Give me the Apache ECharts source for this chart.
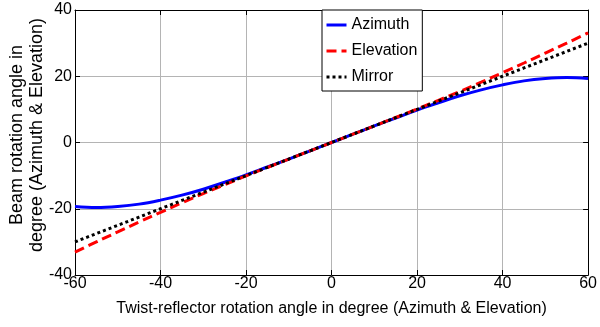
<!DOCTYPE html>
<html><head><meta charset="utf-8">
<script src="https://cdn.jsdelivr.net/npm/echarts@6/dist/echarts.min.js"></script>
<style>html,body{margin:0;padding:0;background:#fff}#c{width:600px;height:327px}</style>
</head><body><div id="c"></div>
<script>
var angles = [-60,-55,-50,-45,-40,-35,-30,-25,-20,-15,-10,-5,0,5,10,15,20,25,30,35,40,45,50,55,60];
var azimuth = [-19.3,-19.6,-19.3,-18.6,-17.4,-15.9,-14.1,-12.0,-9.8,-7.4,-5.0,-2.5,0,2.5,5.0,7.4,9.8,12.0,14.1,15.9,17.4,18.6,19.3,19.6,19.3];
var elevation = [-33.1,-30.0,-27.0,-24.0,-21.1,-18.2,-15.4,-12.75,-10.1,-7.55,-5.0,-2.5,0,2.5,5.0,7.55,10.1,12.75,15.4,18.2,21.1,24.0,27.0,30.0,33.1];
var mirror = [-30,-27.5,-25,-22.5,-20,-17.5,-15,-12.5,-10,-7.5,-5,-2.5,0,2.5,5,7.5,10,12.5,15,17.5,20,22.5,25,27.5,30];
var xTicks = [-60,-40,-20,0,20,40,60];
var yTicks = [-40,-20,0,20,40];
var seriesNames = ['Azimuth','Elevation','Mirror'];
var xTitle = 'Twist-reflector rotation angle in degree (Azimuth & Elevation)';
var yTitle = 'Beam rotation angle in\ndegree (Azimuth & Elevation)';

function pairs(v){ return angles.map(function(a,i){ return [a, v[i]]; }); }
var FONT = '"Liberation Sans", Arial, sans-serif';
var chart = echarts.init(document.getElementById('c'), null, {renderer:'canvas'});
var tickStyle = {show:true, inside:true, length:5, lineStyle:{color:'#000', width:1}};
chart.setOption({
  animation:false,
  backgroundColor:'#fff',
  grid:{left:75, right:8, top:10, bottom:52, containLabel:false},
  legend:{
    data:seriesNames, orient:'vertical', left:322, top:10,
    backgroundColor:'#fff', borderColor:'#000', borderWidth:1, borderRadius:0,
    padding:[7,5,6,3], itemGap:10, itemWidth:20, itemHeight:15,
    itemStyle:{opacity:0},
    lineStyle:{width:3},
    textStyle:{fontFamily:FONT, fontSize:16, color:'#000'}
  },
  xAxis:[{
    type:'value', min:xTicks[0], max:xTicks[xTicks.length-1], interval:20,
    axisLine:{show:true, onZero:false, lineStyle:{color:'#000', width:1}},
    axisTick:tickStyle,
    axisLabel:{fontFamily:FONT, fontSize:16, color:'#000', margin:1},
    splitLine:{show:true, lineStyle:{color:'#b4b4b4', width:1}},
    name:xTitle, nameLocation:'middle', nameGap:26,
    nameTextStyle:{fontFamily:FONT, fontSize:16, color:'#000'}
  },{
    type:'value', position:'top', min:xTicks[0], max:xTicks[xTicks.length-1], interval:20,
    axisLine:{show:true, onZero:false, lineStyle:{color:'#000', width:1}},
    axisTick:tickStyle, axisLabel:{show:false}, splitLine:{show:false}
  }],
  yAxis:[{
    type:'value', min:yTicks[0], max:yTicks[yTicks.length-1], interval:20,
    axisLine:{show:true, onZero:false, lineStyle:{color:'#000', width:1}},
    axisTick:tickStyle,
    axisLabel:{fontFamily:FONT, fontSize:16, color:'#000', margin:3},
    splitLine:{show:true, lineStyle:{color:'#b4b4b4', width:1}}
  },{
    type:'value', position:'right', min:yTicks[0], max:yTicks[yTicks.length-1], interval:20,
    axisLine:{show:true, onZero:false, lineStyle:{color:'#000', width:1}},
    axisTick:tickStyle, axisLabel:{show:false}, splitLine:{show:false}
  }],
  graphic:[{
    type:'text', x:27, y:135, rotation:Math.PI/2,
    style:{text:yTitle, fontFamily:FONT, fontSize:18, lineHeight:20, fill:'#000', align:'center', verticalAlign:'middle'}
  }],
  series:[
    {name:seriesNames[0], type:'line', data:pairs(azimuth), showSymbol:false, symbol:'none', smooth:0.4,
     lineStyle:{color:'#0000ff', width:3}, itemStyle:{color:'#0000ff'}},
    {name:seriesNames[1], type:'line', data:pairs(elevation), showSymbol:false, symbol:'none', smooth:0.4,
     lineStyle:{color:'#ff0000', width:3, type:[10,5]}, itemStyle:{color:'#ff0000'}},
    {name:seriesNames[2], type:'line', data:pairs(mirror), showSymbol:false, symbol:'none',
     lineStyle:{color:'#000', width:3, type:[3,3]}, itemStyle:{color:'#000'}}
  ]
});
</script></body></html>
